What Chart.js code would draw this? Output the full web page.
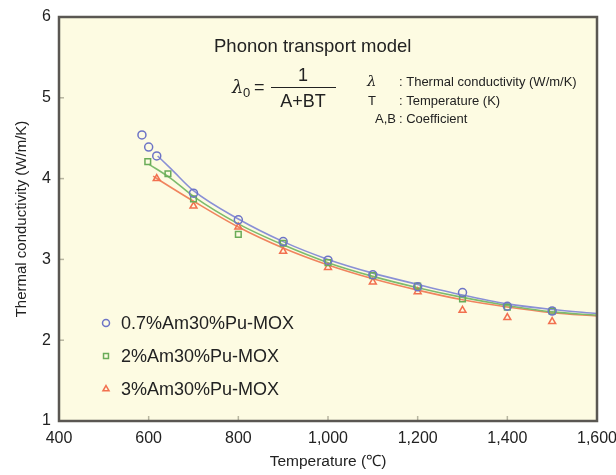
<!DOCTYPE html>
<html>
<head>
<meta charset="utf-8">
<script src="https://cdn.jsdelivr.net/npm/chart.js@4/dist/chart.umd.min.js"></script>
<style>
  body { margin: 0; background: #fff; }
  #wrap { width: 616px; height: 475px; }
</style>
</head>
<body>
<div id="wrap"><canvas id="chart" width="616" height="475"></canvas></div>
<script>
// measured points (deg C, W/m/K)
const seriesNames = ['0.7%Am30%Pu-MOX', '2%Am30%Pu-MOX', '3%Am30%Pu-MOX'];

const am07Temp = [585, 600, 618, 700, 800, 900, 1000, 1100, 1200, 1300, 1400, 1500];
const am07Cond = [4.54, 4.39, 4.28, 3.82, 3.49, 3.22, 2.99, 2.81, 2.66, 2.59, 2.42, 2.36];

const am2Temp = [598, 643, 700, 800, 900, 1000, 1100, 1200, 1300, 1400, 1500];
const am2Cond = [4.21, 4.06, 3.75, 3.31, 3.20, 2.96, 2.80, 2.67, 2.51, 2.41, 2.36];

const am3Temp = [618, 700, 800, 900, 1000, 1100, 1200, 1300, 1400, 1500];
const am3Cond = [4.00, 3.66, 3.40, 3.10, 2.90, 2.72, 2.60, 2.37, 2.28, 2.23];

// fitted curves
const fit07Temp = [620, 650, 700, 800, 900, 1000, 1100, 1200, 1300, 1400, 1500, 1600];
const fit07Cond = [4.28, 4.12, 3.85, 3.50, 3.22, 3.00, 2.83, 2.69, 2.56, 2.45, 2.38, 2.33];
const fit2Temp = [600, 650, 700, 800, 900, 1000, 1100, 1200, 1300, 1400, 1500, 1600];
const fit2Cond = [4.18, 4.00, 3.78, 3.44, 3.18, 2.96, 2.79, 2.65, 2.53, 2.43, 2.35, 2.31];
const fit3Temp = [610, 650, 700, 800, 900, 1000, 1100, 1200, 1300, 1400, 1500, 1600];
const fit3Cond = [4.03, 3.89, 3.72, 3.40, 3.14, 2.93, 2.76, 2.62, 2.50, 2.41, 2.34, 2.30];

const xTicks = [400, 600, 800, 1000, 1200, 1400, 1600];
const yTicks = [1, 2, 3, 4, 5, 6];

const colors = ['#6d74c6', '#6aac58', '#f2704f'];
const lineColors = ['#8a90d6', '#7dbb6c', '#f0845e'];
const markers = ['circle', 'rect', 'triangle'];

function pts(xs, ys) {
  return xs.map((x, i) => ({ x: x, y: ys[i] }));
}

const FONT = '"Liberation Sans", Arial, sans-serif';

const backgroundPlugin = {
  id: 'bg',
  beforeDraw(chart) {
    const { ctx, chartArea: a } = chart;
    ctx.save();
    ctx.fillStyle = '#fdfbe2';
    ctx.fillRect(a.left, a.top, a.right - a.left, a.bottom - a.top);
    ctx.restore();
  }
};

const decorPlugin = {
  id: 'decor',
  afterDraw(chart) {
    const { ctx, chartArea: a, scales } = chart;
    ctx.save();
    // inner ticks
    ctx.strokeStyle = '#b8b6a0';
    ctx.lineWidth = 1.5;
    xTicks.slice(1, -1).forEach(v => {
      const x = scales.x.getPixelForValue(v);
      ctx.beginPath();
      ctx.moveTo(x, a.bottom);
      ctx.lineTo(x, a.bottom - 5);
      ctx.stroke();
    });
    yTicks.slice(1, -1).forEach(v => {
      const y = scales.y.getPixelForValue(v);
      ctx.beginPath();
      ctx.moveTo(a.left, y);
      ctx.lineTo(a.left + 5, y);
      ctx.stroke();
    });
    // frame
    ctx.strokeStyle = '#5a5752';
    ctx.lineWidth = 2.5;
    ctx.strokeRect(a.left, a.top, a.right - a.left, a.bottom - a.top);

    // model annotation
    ctx.fillStyle = '#222';
    ctx.textBaseline = 'alphabetic';
    ctx.textAlign = 'left';
    ctx.font = '18.5px ' + FONT;
    ctx.fillText('Phonon transport model', 214, 52);

    ctx.font = 'italic 18px "DejaVu Serif", serif';
    ctx.fillText('\u03bb', 232, 93);
    ctx.font = '13px ' + FONT;
    ctx.fillText('0', 243, 97);
    ctx.font = '18px ' + FONT;
    ctx.fillText('=', 254, 93);
    ctx.textAlign = 'center';
    ctx.fillText('1', 303, 81);
    ctx.fillText('A+BT', 303, 107);
    ctx.strokeStyle = '#222';
    ctx.lineWidth = 1;
    ctx.beginPath();
    ctx.moveTo(271, 87.5);
    ctx.lineTo(336, 87.5);
    ctx.stroke();

    ctx.textAlign = 'left';
    ctx.font = 'italic 15px "DejaVu Serif", serif';
    ctx.fillText('\u03bb', 367, 86);
    ctx.font = '13px ' + FONT;
    ctx.fillText(': Thermal conductivity (W/m/K)', 399, 86);
    ctx.fillText('T', 368, 104.5);
    ctx.fillText(': Temperature (K)', 399, 104.5);
    ctx.fillText(': Coefficient', 399, 123);
    ctx.textAlign = 'right';
    ctx.fillText('A,B', 396, 123);

    // legend inside the plot
    const ly = [323, 356, 389];
    chart.data.datasets.slice(0, 3).forEach((ds, i) => {
      ctx.strokeStyle = ds.pointBorderColor;
      ctx.fillStyle = 'rgba(0,0,0,0)';
      ctx.lineWidth = 1.5;
      Chart.helpers.drawPoint(ctx, {
        pointStyle: ds.pointStyle, radius: 3.5, rotation: 0, borderWidth: 1.5
      }, 106, ly[i]);
      ctx.fillStyle = '#222';
      ctx.font = '18px ' + FONT;
      ctx.textAlign = 'left';
      ctx.textBaseline = 'middle';
      ctx.fillText(seriesNames[i], 121, ly[i] + 1);
    });
    ctx.restore();
  }
};

const markerSets = [
  [am07Temp, am07Cond], [am2Temp, am2Cond], [am3Temp, am3Cond]
].map((s, i) => ({
  label: seriesNames[i],
  data: pts(s[0], s[1]),
  showLine: false,
  pointStyle: markers[i],
  pointRadius: 4,
  pointBorderWidth: 1.5,
  borderColor: colors[i],
  pointBorderColor: colors[i],
  pointBackgroundColor: 'rgba(0,0,0,0)',
  order: 1
}));

const fitSets = [
  [fit07Temp, fit07Cond], [fit2Temp, fit2Cond], [fit3Temp, fit3Cond]
].map((s, i) => ({
  label: 'fit ' + seriesNames[i],
  data: pts(s[0], s[1]),
  showLine: true,
  pointRadius: 0,
  borderColor: lineColors[i],
  borderWidth: 1.6,
  cubicInterpolationMode: 'monotone',
  order: 2
}));

new Chart(document.getElementById('chart'), {
  type: 'scatter',
  data: { datasets: markerSets.concat(fitSets) },
  options: {
    responsive: false,
    animation: false,
    layout: { padding: { top: 17, right: 19, left: 0, bottom: 0 } },
    plugins: { legend: { display: false }, tooltip: { enabled: false } },
    scales: {
      x: {
        type: 'linear', min: 400, max: 1600,
        afterBuildTicks: s => { s.ticks = xTicks.map(v => ({ value: v })); },
        grid: { display: false, drawTicks: false },
        border: { display: false },
        ticks: {
          color: '#222', padding: 8,
          font: { family: FONT, size: 16 },
          maxRotation: 0,
          callback: v => v.toLocaleString('en-US')
        },
        title: {
          display: true, text: 'Temperature (\u2103)', color: '#222',
          font: { family: FONT, size: 15.5 }, padding: { top: 10 }
        },
        afterFit: s => { s.height = 54; s.paddingRight = 0; s.paddingLeft = 0; }
      },
      y: {
        min: 1, max: 6,
        afterBuildTicks: s => { s.ticks = yTicks.map(v => ({ value: v })); },
        grid: { display: false, drawTicks: false },
        border: { display: false },
        ticks: { color: '#222', padding: 8, font: { family: FONT, size: 16 } },
        title: {
          display: true, text: 'Thermal conductivity (W/m/K)', color: '#222',
          font: { family: FONT, size: 15 }, padding: { top: 13, bottom: 0 }
        },
        afterFit: s => { s.width = 59; s.paddingTop = 0; s.paddingBottom = 0; }
      }
    }
  },
  plugins: [backgroundPlugin, decorPlugin]
});
</script>
</body>
</html>
